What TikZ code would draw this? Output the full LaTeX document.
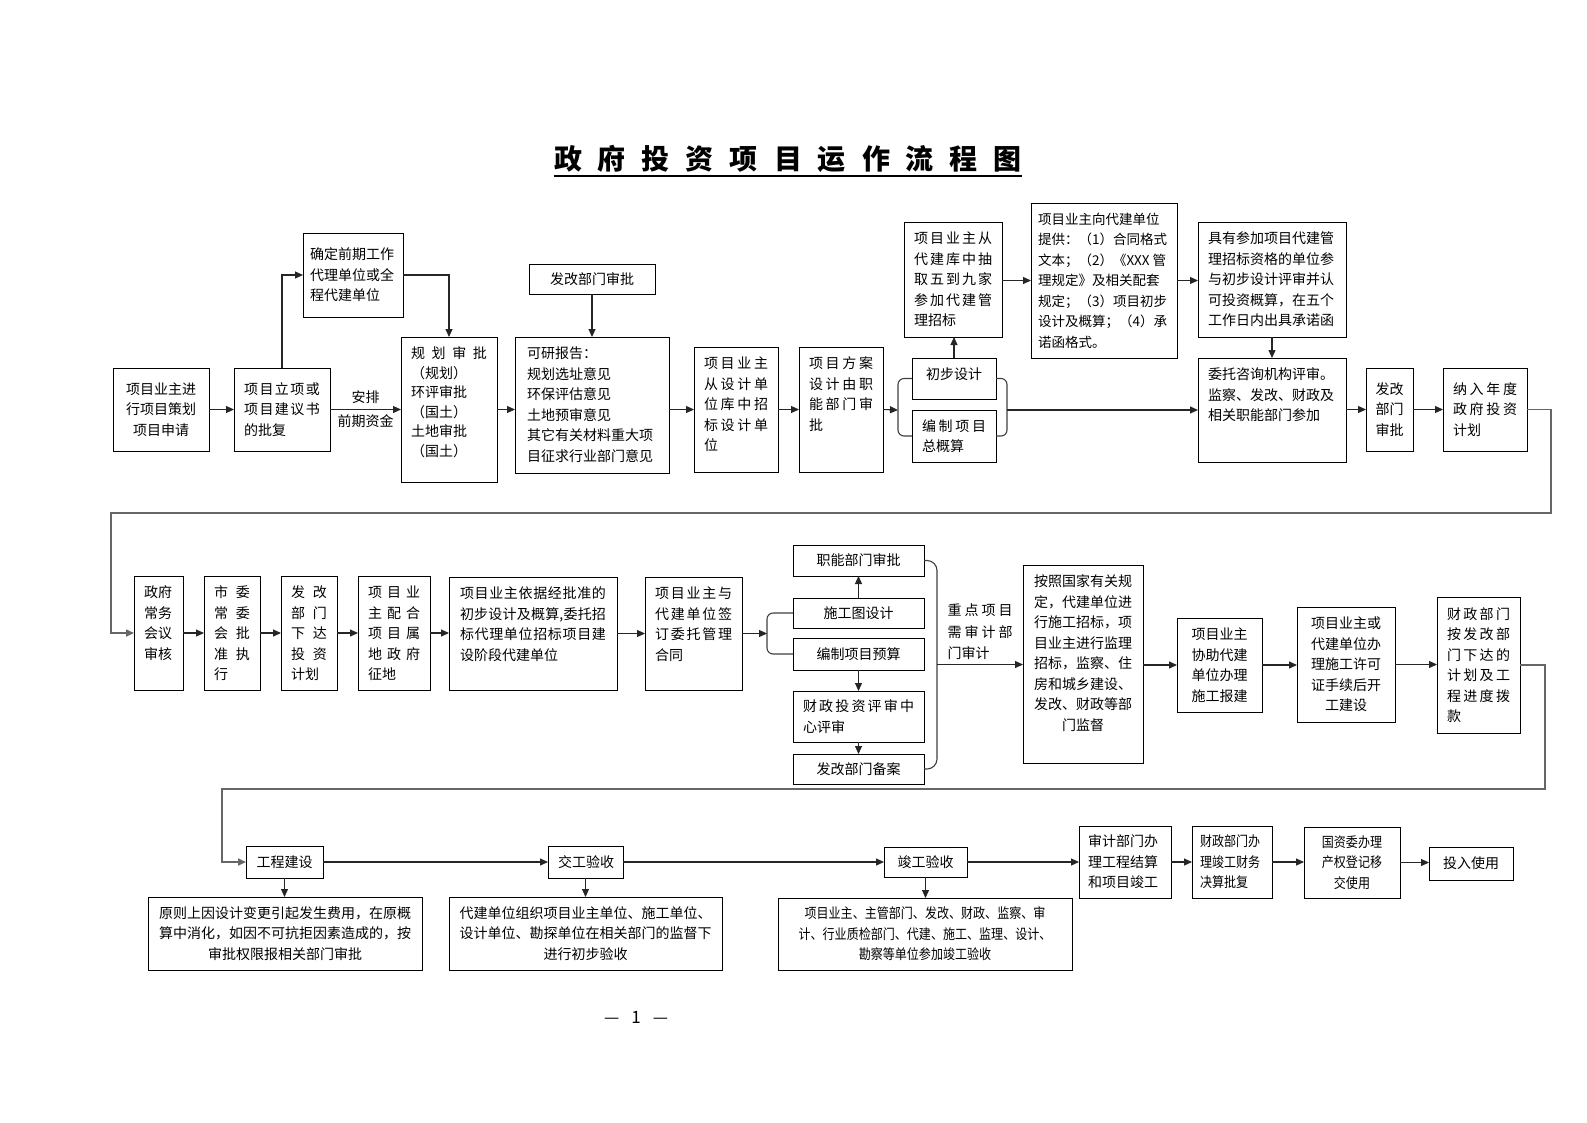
\documentclass[tikz,border=0pt]{standalone}
\usepackage{fontspec}
\setmainfont{Noto Sans CJK SC}
\newfontfamily\narrowcjk{Noto Sans CJK SC}[FakeStretch=0.86]
\usetikzlibrary{arrows.meta,calc}
\ExplSyntaxOn
\NewDocumentCommand\SP{m}{\makebox[\linewidth][s]{\tl_map_inline:nn{#1}{##1\hfil}\unskip}}
\ExplSyntaxOff
\newlength\PX \setlength\PX{10pt}
\newlength\PY \setlength\PY{10pt}
\tikzset{
  bx/.style={draw=black,line width=1pt,inner xsep=\PX,inner ysep=\PY,outer sep=0pt,font=\fontsize{14}{20.5}\selectfont},
  arr/.style={draw=black!85,line width=1.1pt,-{Triangle[length=8pt,width=7pt]}},
  conn/.style={draw=black!75,line width=1.1pt,rounded corners=6pt},
  wrap/.style={draw=black!60,line width=1.6pt,-{Triangle[length=8pt,width=7pt]}},
  lbl/.style={font=\fontsize{14}{20.5}\selectfont,inner sep=2pt},
}
\newcommand\BX[7][c]{%
  \pgfmathsetlengthmacro\bxw{(#5)-(#3)-2*\PX}%
  \pgfmathsetlengthmacro\bxh{(#6)-(#4)-2*\PY}%
  \node[bx,anchor=north west] (#2) at (#3,#4) {\parbox[c][\bxh][#1]{\bxw}{#7}};%
}
\begin{document}
\begin{tikzpicture}[x=1pt,y=-1pt]
\fill[white] (0,0) rectangle (1587,1122);
\useasboundingbox (0,0) rectangle (1587,1122);

% title
\node[inner sep=0pt] (title) at (788,159) {\fontsize{28}{30}\selectfont\bfseries\makebox[468pt][s]{政\hfil 府\hfil 投\hfil 资\hfil 项\hfil 目\hfil 运\hfil 作\hfil 流\hfil 程\hfil 图}};
\draw[line width=2pt] ([yshift=-3pt]title.south west) -- ([yshift=-3pt]title.south east);

% ---------- row 1 ----------
\BX{A}{113}{368}{209}{451}{\centering 项目业主进\\行项目策划\\项目申请}
\BX{B}{234}{368}{330}{451}{\raggedright\SP{项目立项或}\\\SP{项目建议书}\\的批复}
\setlength\PX{7pt}
\BX{C}{303}{233}{403}{317}{\raggedright 确定前期工作\\代理单位或全\\程代建单位}
\setlength\PX{10pt}
\BX[t]{D}{401}{337}{497}{482}{\raggedright\baselineskip=19.5pt \SP{规划审批}\\（规划）\\环评审批\\（国土）\\土地审批\\（国土）}
\BX{E}{529}{264}{655}{294}{\centering 发改部门审批}
\setlength\PX{12pt}
\BX[t]{F}{515}{337}{669}{473}{\raggedright 可研报告：\\规划选址意见\\环保评估意见\\土地预审意见\\其它有关材料重大项\\目征求行业部门意见}
\setlength\PX{10pt}
\BX[t]{G}{694}{347}{778}{472}{\raggedright\SP{项目业主}\\\SP{从设计单}\\\SP{位库中招}\\\SP{标设计单}\\位}
\BX[t]{H}{799}{347}{883}{472}{\raggedright\SP{项目方案}\\\SP{设计由职}\\\SP{能部门审}\\批}
\BX[t]{I}{912}{358}{996}{399}{\centering 初步设计}
\BX{J}{912}{410}{996}{462}{\raggedright\SP{编制项目}\\总概算}
\BX{K}{904}{222}{1002}{337}{\raggedright\SP{项目业主从}\\\SP{代建库中抽}\\\SP{取五到九家}\\\SP{参加代建管}\\理招标}
\setlength\PX{7pt}
\BX{L}{1031}{203}{1177}{358}{\raggedright\fontsize{13.5}{20.5}\selectfont 项目业主向代建单位\\提供：（1）合同格式\\文本；（2）《XXX 管\\理规定》及相关配套\\规定；（3）项目初步\\设计及概算；（4）承\\诺函格式。}
\setlength\PX{10pt}
\BX{M}{1198}{222}{1346}{337}{\raggedright 具有参加项目代建管\\理招标资格的单位参\\与初步设计评审并认\\可投资概算，在五个\\工作日内出具承诺函}
\BX[t]{N}{1198}{358}{1346}{462}{\raggedright 委托咨询机构评审。\\监察、发改、财政及\\相关职能部门参加}
\setlength\PX{9pt}
\BX{O}{1366}{368}{1413}{451}{\centering 发改\\部门\\审批}
\setlength\PX{10pt}
\BX{P}{1443}{368}{1527}{451}{\raggedright\SP{纳入年度}\\\SP{政府投资}\\计划}

% ---------- row 2 ----------
\BX[t]{Q}{134}{576}{183}{690}{\raggedright 政府\\常务\\会议\\审核}
\BX[t]{R}{204}{576}{260}{690}{\raggedright\SP{市委}\\\SP{常委}\\\SP{会批}\\\SP{准执}\\行}
\BX[t]{S}{281}{576}{337}{690}{\raggedright\SP{发改}\\\SP{部门}\\\SP{下达}\\\SP{投资}\\计划}
\BX[t]{T}{358}{576}{430}{690}{\raggedright\SP{项目业}\\\SP{主配合}\\\SP{项目属}\\\SP{地政府}\\征地}
\setlength\PX{11pt}
\BX[t]{U}{449}{577}{617}{690}{\raggedright\SP{项目业主依据经批准的}\\\SP{初步设计及概算,委托招}\\\SP{标代理单位招标项目建}\\设阶段代建单位}
\setlength\PX{10pt}
\BX[t]{V}{645}{577}{742}{690}{\raggedright\SP{项目业主与}\\\SP{代建单位签}\\\SP{订委托管理}\\合同}
\BX{W}{793}{545}{924}{576}{\centering 职能部门审批}
\BX{X}{793}{598}{924}{628}{\centering 施工图设计}
\BX{Y}{793}{638}{924}{670}{\centering 编制项目预算}
\BX{Z}{793}{691}{924}{742}{\raggedright\SP{财政投资评审中}\\心评审}
\BX{AA}{793}{754}{924}{784}{\centering 发改部门备案}
\BX[t]{BB}{1023}{565}{1143}{763}{\centering 按照国家有关规\\定，代建单位进\\行施工招标，项\\目业主进行监理\\招标，监察、住\\房和城乡建设、\\发改、财政等部\\门监督}
\BX{CC}{1177}{618}{1262}{712}{\centering 项目业主\\协助代建\\单位办理\\施工报建}
\BX{DD}{1297}{607}{1395}{722}{\centering 项目业主或\\代建单位办\\理施工许可\\证手续后开\\工建设}
\BX{EE}{1437}{597}{1520}{733}{\raggedright\SP{财政部门}\\\SP{按发改部}\\\SP{门下达的}\\\SP{计划及工}\\\SP{程进度拨}\\款}

% ---------- row 3 ----------
\BX{FF}{246}{846}{323}{878}{\centering 工程建设}
\BX{GG}{148}{897}{422}{970}{\centering 原则上因设计变更引起发生费用，在原概\\算中消化，如因不可抗拒因素造成的，按\\审批权限报相关部门审批}
\BX{HH}{548}{846}{623}{878}{\centering 交工验收}
\BX{II}{449}{897}{722}{970}{\centering 代建单位组织项目业主单位、施工单位、\\设计单位、勘探单位在相关部门的监督下\\进行初步验收}
\BX{JJ}{884}{847}{967}{877}{\centering 竣工验收}
\setlength\PX{7pt}
\BX{KK}{778}{898}{1072}{970}{\centering\narrowcjk 项目业主、主管部门、发改、财政、监察、审\\计、行业质检部门、代建、施工、监理、设计、\\勘察等单位参加竣工验收}
\setlength\PX{9pt}
\BX{LL}{1079}{826}{1171}{898}{\raggedright 审计部门办\\理工程结算\\和项目竣工}
\setlength\PX{8pt}
\BX{MM}{1192}{826}{1272}{898}{\raggedright\narrowcjk 财政部门办\\理竣工财务\\决算批复}
\setlength\PX{10pt}
\BX{NN}{1304}{827}{1400}{898}{\centering\narrowcjk 国资委办理\\产权登记移\\交使用}
\BX{OO}{1429}{847}{1513}{880}{\centering 投入使用}

% page number
\node[font=\fontsize{17}{19}\selectfont] (pg) at (636,1017) {\makebox[64pt][s]{—\hfil 1\hfil —}};

% ---------- connectors row 1 ----------
\draw[arr] (A.east) -- (B.west);
\draw[arr] (B.east) -- node[lbl,above=3pt]{安排} node[lbl,below=3pt]{前期资金} (D.west);
\draw[arr] (B.north) |- (C.west);
\draw[arr] (C.east) -| (D.north);
\draw[arr] (E.south) -- (F.north);
\draw[arr] (D.east) -- (D.east -| F.west);
\draw[arr] (G.west -| F.east) -- (G.west);
\draw[arr] (G.east) -- (H.west);
\coordinate (bl) at (898,410);
\coordinate (br) at (1007,410);
\draw[conn] (I.west) -| (bl) |- (J.west);
\draw[conn] (I.east) -| (br) |- (J.east);
\draw[arr] (H.east) -- (bl);
\draw[arr] (br) -- (N.west);
\draw[arr] (I.north) -- (I.north |- K.south);
\draw[arr] (K.east |- L.west) -- (L.west);
\draw[arr] (L.east) -- (L.east -| M.west);
\draw[arr] (M.south) -- (N.north);
\draw[arr] (N.east |- O.west) -- (O.west);
\draw[arr] (O.east) -- (P.west);
\draw[wrap] (P.east) -- (1551,409.5) -- (1551,513) -- (111,513) -- (111,633) -- (Q.west);

% ---------- connectors row 2 ----------
\draw[arr] (Q.east) -- (R.west);
\draw[arr] (R.east) -- (S.west);
\draw[arr] (S.east) -- (T.west);
\draw[arr] (T.east) -- (T.east -| U.west);
\draw[arr] (U.east) -- (V.west);
\coordinate (bl2) at (767,633.5);
\draw[conn] (X.west) -| (bl2) |- (Y.west);
\draw[arr] (V.east) -- (bl2);
\draw[arr] (X.north) -- (W.south);
\draw[arr] (Y.south) -- (Z.north);
\draw[arr] (Z.south) -- (AA.north);
\coordinate (br2) at (937,664.5);
\draw[conn,rounded corners=10pt] (W.east) -| (br2) |- (AA.east);
\draw[arr] (br2) -- node[above=4pt,inner sep=0pt,font=\fontsize{14}{21.5}\selectfont]{\parbox{65pt}{\raggedright\SP{重点项目}\\\SP{需审计部}\\门审计}} (BB.west |- br2);
\draw[arr] (BB.east |- CC.west) -- (CC.west);
\draw[arr] (CC.east) -- (CC.east -| DD.west);
\draw[arr] (DD.east) -- (DD.east -| EE.west);
\draw[wrap] (EE.east) -- (1545,665) -- (1545,789) -- (222,789) -- (222,862) -- (FF.west);

% ---------- connectors row 3 ----------
\draw[arr] (FF.east) -- (HH.west);
\draw[arr] (HH.east) -- (HH.east -| JJ.west);
\draw[arr] (JJ.east) -- (JJ.east -| LL.west);
\draw[arr] (LL.east) -- (MM.west);
\draw[arr] (MM.east) -- (MM.east -| NN.west);
\draw[arr] (NN.east) -- (NN.east -| OO.west);
\draw[arr] (FF.south) -- (FF.south |- GG.north);
\draw[arr] (HH.south) -- (HH.south |- II.north);
\draw[arr] (JJ.south) -- (JJ.south |- KK.north);
\end{tikzpicture}
\end{document}
